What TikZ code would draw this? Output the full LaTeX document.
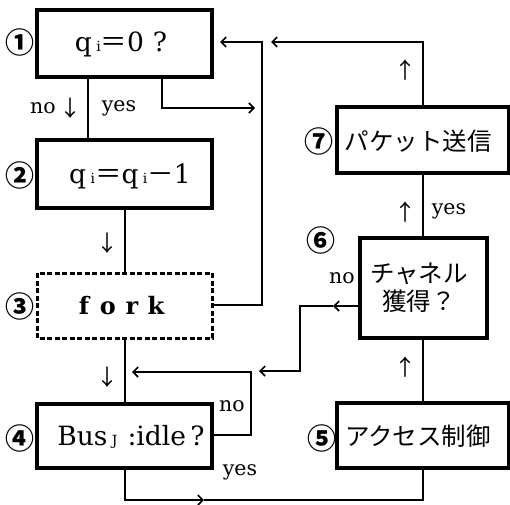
\documentclass[tikz,border=0pt]{standalone}
\usepackage{fontspec}
\setmainfont{DejaVu Serif}
\newfontfamily\jp{Noto Sans CJK JP}
\usetikzlibrary{arrows.meta}
\newcommand{\sbi}[1]{{\fontsize{14}{14}\selectfont #1}}
\newcommand{\pc}[1]{\makebox[24pt]{#1}}
\begin{document}
\begin{tikzpicture}[x=1pt,y=-1pt,
  box/.style={draw,line width=3.2pt,inner sep=0pt},
  fbox/.style={draw,line width=3pt,dash pattern=on 5pt off 2.5pt,inner sep=0pt},
  conn/.style={line width=1.4pt},
  arr/.style={conn,-{Straight Barb[length=5pt,width=10pt,line width=1.6pt]}},
  num/.style={font=\jp\bfseries\fontsize{29}{29}\selectfont,inner sep=0pt},
  lab/.style={font=\fontsize{20.5}{20.5}\selectfont,inner sep=0pt},
  glyph/.style={font=\jp\fontsize{22}{22}\selectfont,inner sep=0pt},
  txt/.style={font=\fontsize{26.5}{26.5}\selectfont,inner sep=0pt},
  jtxt/.style={font=\jp\fontsize{24.5}{28}\selectfont,inner sep=0pt,align=center}]
\useasboundingbox (0,0) rectangle (510,504);
% boxes
\draw[box] (37,10) rectangle (212,77);
\node[txt] (b1) at (121,44) {q\,\sbi{i}{\jp ＝}0\,\,?};
\draw[box] (37,140) rectangle (212,208);
\node[txt] (b2) at (130,176) {q\,\sbi{i}{\jp ＝}q\,\sbi{i}{\jp －}1};
\draw[fbox] (37,273) rectangle (212,338);
\node[txt] (b3) at (120,306) {\bfseries\fontsize{24}{24}\selectfont\pc{f}\pc{o}\pc{r}\pc{k}};
\draw[box] (37,404) rectangle (212,468);
\node[txt] (b4) at (131,437) {Bus\,\sbi{J}\hspace{10pt}:idle\,?};
\draw[box] (337,107) rectangle (509,173);
\node[jtxt] (b7) at (418,141) {パケット送信};
\draw[box] (360,238) rectangle (487,338);
\node[jtxt] (b6) at (419,288) {チャネル\\獲得？};
\draw[box] (337,403) rectangle (509,468);
\node[jtxt] (b5) at (418,436) {アクセス制御};
% numbers
\node[num] (n1) at (20,42) {①};
\node[num] (n2) at (20,175) {②};
\node[num] (n3) at (20,306) {③};
\node[num] (n4) at (20,438) {④};
\node[num] (n5) at (322,438) {⑤};
\node[num] (n6) at (321,240) {⑥};
\node[num] (n7) at (319,141) {⑦};
% coordinates
\coordinate (c1) at (88,77); \coordinate (c2) at (88,140);
\coordinate (y1) at (162,77); \coordinate (y2) at (162,108); \coordinate (y3) at (255,108);
\coordinate (d1) at (125,208); \coordinate (d2) at (125,273);
\coordinate (f1) at (212,305); \coordinate (f2) at (262,305); \coordinate (f3) at (262,42); \coordinate (f4) at (220,42);
\coordinate (t1) at (423,107); \coordinate (t2) at (423,42); \coordinate (t3) at (271,42);
\coordinate (s1) at (423,238); \coordinate (s2) at (423,173);
\coordinate (p1) at (423,403); \coordinate (p2) at (423,338);
\coordinate (h1) at (360,306); \coordinate (h2) at (333,306); \coordinate (h3) at (300,306); \coordinate (h4) at (300,371); \coordinate (h5) at (259,371);
\coordinate (e1) at (125,338); \coordinate (e2) at (125,404);
\coordinate (g1) at (212,435); \coordinate (g2) at (251,435); \coordinate (g3) at (251,372); \coordinate (g4) at (132,372);
\coordinate (k1) at (125,468); \coordinate (k2) at (125,500); \coordinate (k3) at (204,500); \coordinate (k4) at (423,500); \coordinate (k5) at (423,468);
% connectors
\draw[conn] (c1) -- (c2);
\draw[arr] (y1) -- (y2) -- (y3);
\draw[conn] (d1) -- (d2);
\draw[arr] (f1) -- (f2) -- (f3) -- (f4);
\draw[arr] (t1) -- (t2) -- (t3);
\draw[conn] (s1) -- (s2);
\draw[conn] (p1) -- (p2);
\draw[arr] (h1) -- (h2);
\draw[arr] (h2) -- (h3) -- (h4) -- (h5);
\draw[conn] (e1) -- (e2);
\draw[arr] (g1) -- (g2) -- (g3) -- (g4);
\draw[arr] (k1) -- (k2) -- (k3);
\draw[conn] (k3) -- (k4) -- (k5);
% labels
\node[lab] (l1) at (43,108) {no};
\node[glyph] (a1) at (70,108) {↓};
\node[lab] (l2) at (119,108) {yes};
\node[glyph] (a2) at (107,243) {↓};
\node[glyph] (a3) at (107,377) {↓};
\node[glyph] (a4) at (405,70) {↑};
\node[glyph] (a5) at (405,212) {↑};
\node[glyph] (a6) at (405,367) {↑};
\node[lab] (l3) at (449,211) {yes};
\node[lab] (l4) at (342,278) {no};
\node[lab] (l5) at (232,406) {no};
\node[lab] (l6) at (240,472) {yes};
\end{tikzpicture}
\end{document}
